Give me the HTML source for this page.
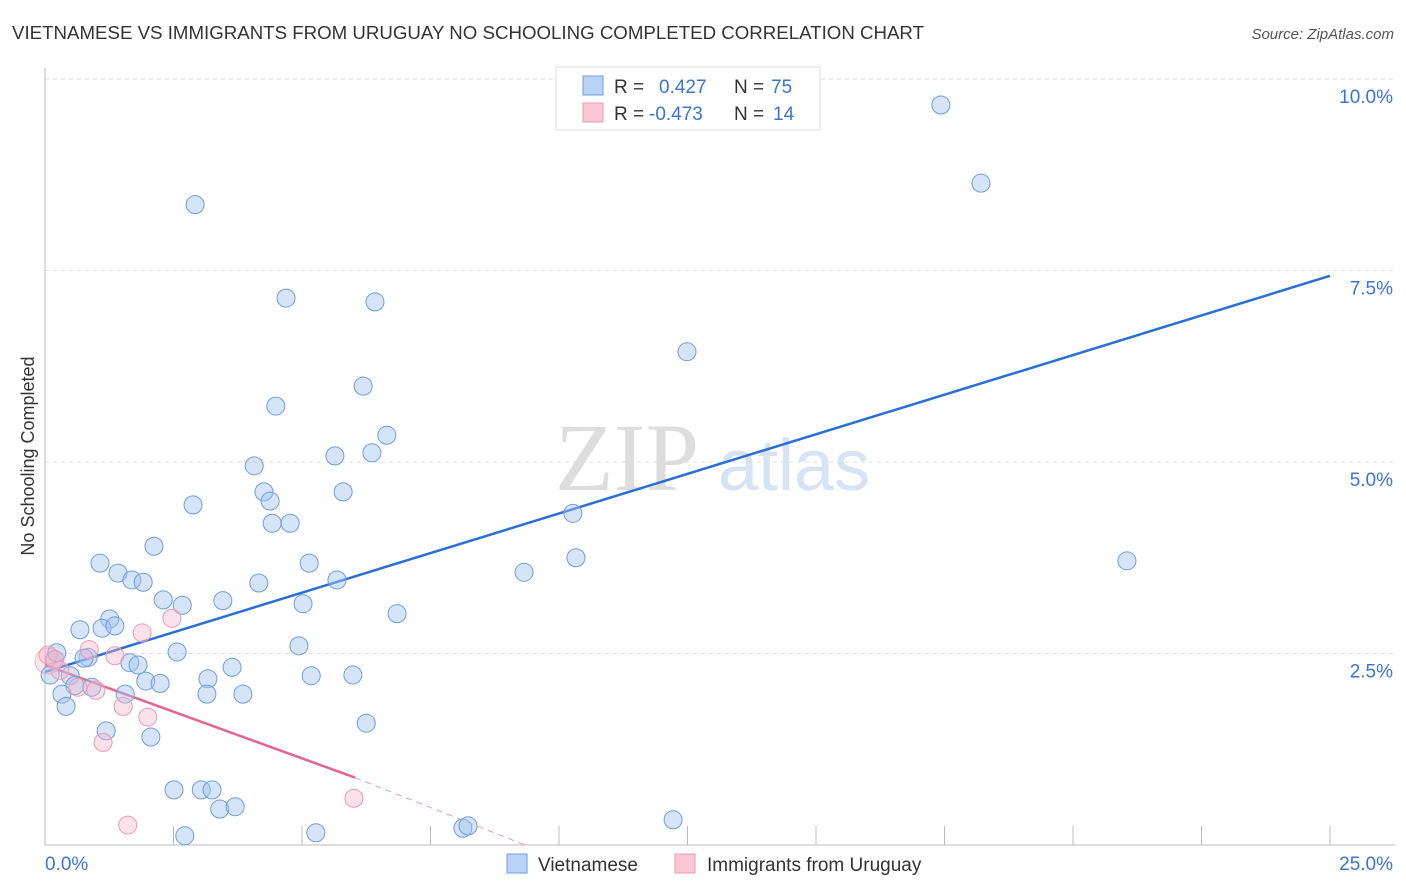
<!DOCTYPE html>
<html><head><meta charset="utf-8"><style>
body{margin:0;background:#fff;font-family:"Liberation Sans",sans-serif}
svg{display:block}
</style></head><body>
<svg id="chart" width="1406" height="892">
<text x="12" y="39" font-size="18" fill="#333" textLength="912" lengthAdjust="spacingAndGlyphs">VIETNAMESE VS IMMIGRANTS FROM URUGUAY NO SCHOOLING COMPLETED CORRELATION CHART</text>
<text x="1394" y="39" font-size="15" fill="#555" text-anchor="end" font-style="italic">Source: ZipAtlas.com</text>
<text x="555" y="490" font-size="96" fill="#ddd" font-family="Liberation Serif,serif">ZIP</text>
<text x="718" y="490" font-size="72" fill="#d6e3f5">atlas</text>
<text transform="translate(34,456) rotate(-90)" font-size="18" fill="#333" text-anchor="middle">No Schooling Completed</text>
<g id="grid"></g><g id="axes"></g><g id="lines"></g><g id="pts"></g>
<g>
<rect x="556" y="67" width="264" height="63" fill="#fff" stroke="#ddd"/>
<rect x="583" y="76" width="20" height="19" fill="#b9d2f5" stroke="#6d9de0"/>
<rect x="583" y="103" width="20" height="19" fill="#f9c7d6" stroke="#eb9ab4"/>
<text x="614" y="93" font-size="19" fill="#333">R =</text><text x="659" y="93" font-size="19" fill="#3b74d4">0.427</text>
<text x="734" y="93" font-size="19" fill="#333">N =</text><text x="771" y="93" font-size="19" fill="#3b74d4">75</text>
<text x="614" y="120" font-size="19" fill="#333">R =</text><text x="649" y="120" font-size="19" fill="#3b74d4">-0.473</text>
<text x="734" y="120" font-size="19" fill="#333">N =</text><text x="773" y="120" font-size="19" fill="#3b74d4">14</text>
</g>
<g>
<rect x="507" y="854" width="20" height="19" fill="#b9d2f5" stroke="#6d9de0"/>
<text x="538" y="871" font-size="19" fill="#333">Vietnamese</text>
<rect x="675" y="854" width="20" height="19" fill="#f9c7d6" stroke="#eb9ab4"/>
<text x="707" y="871" font-size="19" fill="#333">Immigrants from Uruguay</text>
</g>
</svg>
<script>
const blueX=[2.92,4.69,6.42,17.43,18.21,12.49,6.19,4.49,6.65,5.64,6.36,4.07,4.26,4.38,5.80,2.88,4.42,4.77,2.12,1.07,5.14,10.33,10.27,9.32,21.05,1.42,1.69,1.91,4.16,5.68,2.30,2.67,3.46,5.02,6.85,1.26,0.68,1.11,1.36,4.94,2.57,0.84,0.76,1.65,1.81,3.64,0.19,0.23,0.10,0.49,5.18,5.99,3.17,1.96,2.24,0.58,0.91,1.56,3.15,3.85,0.33,0.41,1.19,2.06,6.25,2.51,3.04,3.25,3.40,3.70,2.72,5.27,8.13,8.23,12.22];
const blueY=[8.36,7.14,7.09,9.66,8.64,6.44,5.99,5.73,5.35,5.08,5.12,4.95,4.61,4.49,4.61,4.44,4.20,4.20,3.90,3.68,3.68,3.75,4.33,3.56,3.71,3.55,3.46,3.43,3.42,3.46,3.20,3.13,3.19,3.15,3.02,2.95,2.81,2.83,2.86,2.60,2.52,2.45,2.44,2.38,2.35,2.32,2.42,2.51,2.22,2.21,2.21,2.22,2.17,2.14,2.11,2.08,2.06,1.97,1.97,1.97,1.97,1.81,1.49,1.41,1.59,0.72,0.72,0.72,0.47,0.50,0.12,0.16,0.22,0.25,0.33];
const pinkX=[0.06,0.19,0.29,0.86,1.36,1.89,2.47,0.64,0.99,1.52,2.00,1.13,1.61,6.01];
const pinkY=[2.48,2.42,2.28,2.55,2.47,2.77,2.96,2.06,2.02,1.81,1.67,1.34,0.26,0.61];
const yTicks=[2.5,5.0,7.5,10.0];
const yTickLabels=["2.5%","5.0%","7.5%","10.0%"];
const xTicks=[2.5,5,7.5,10,12.5,15,17.5,20,22.5,25];
const blueTrend=[[0,2.26],[25,7.43]];
const pinkTrend=[[0,2.35],[6.03,0.88]];
const pinkTrendDash=[[6.03,0.88],[9.34,0]];
const NS="http://www.w3.org/2000/svg";
const sx=v=>45+v*51.4, sy=v=>845-v*76.6;
function mk(tag,attrs,parent){const e=document.createElementNS(NS,tag);for(const k in attrs)e.setAttribute(k,attrs[k]);document.getElementById(parent).appendChild(e);return e;}
yTicks.forEach((t,i)=>{
 const g=mk('line',{x1:45,x2:1395,y1:sy(t),y2:sy(t),stroke:'#ddd','stroke-dasharray':'4,4'},'grid');
 
 
 const l=mk('text',{x:1393,y:sy(t)+24,'font-size':19,fill:'#3b74d4','text-anchor':'end'},'grid');
 l.textContent=yTickLabels[i];
 
 
});
const ax=mk('line',{x1:45,x2:45,y1:68,y2:845,stroke:'#bbb'},'axes');


const bx=mk('line',{x1:45,x2:1395,y1:845,y2:845,stroke:'#bbb'},'axes');


xTicks.forEach(t=>{
 const k=mk('line',{x1:sx(t),x2:sx(t),y1:826,y2:845,stroke:'#bbb'},'axes');
 
 
});
const x0=mk('text',{x:45,y:870,'font-size':19,fill:'#3b74d4'},'axes');x0.textContent='0.0%';


const x1=mk('text',{x:1393,y:870,'font-size':19,fill:'#3b74d4','text-anchor':'end'},'axes');x1.textContent='25.0%';


const big=mk('circle',{cx:sx(0.06),cy:sy(2.4),r:13,fill:'rgba(245,180,200,0.3)',stroke:'#f0b5c8','stroke-width':1},'pts');


blueX.forEach((v,i)=>{
 const c=mk('circle',{cx:sx(v),cy:sy(blueY[i]),r:9,fill:'rgba(164,196,240,0.45)',stroke:'#6d9de0','stroke-width':1},'pts');
 
 
});
pinkX.forEach((v,i)=>{
 const c=mk('circle',{cx:sx(v),cy:sy(pinkY[i]),r:9,fill:'rgba(245,180,200,0.4)',stroke:'#eb9ab4','stroke-width':1},'pts');
 
 
});
const bl=mk('line',{x1:sx(blueTrend[0][0]),y1:sy(blueTrend[0][1]),x2:sx(blueTrend[1][0]),y2:sy(blueTrend[1][1]),stroke:'#2a6fd6','stroke-width':2.5},'lines');


const pl=mk('line',{x1:sx(pinkTrend[0][0]),y1:sy(pinkTrend[0][1]),x2:sx(pinkTrend[1][0]),y2:sy(pinkTrend[1][1]),stroke:'#e4638f','stroke-width':2.5},'lines');


const pd=mk('line',{x1:sx(pinkTrendDash[0][0]),y1:sy(pinkTrendDash[0][1]),x2:sx(pinkTrendDash[1][0]),y2:sy(pinkTrendDash[1][1]),stroke:'#eb9ab4','stroke-width':1,'stroke-dasharray':'6,5'},'lines');


</script>
</body></html>
